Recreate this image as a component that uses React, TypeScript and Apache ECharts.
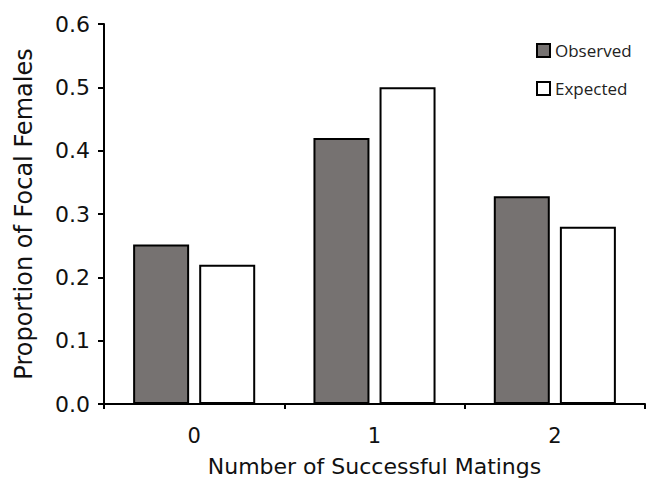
import React, { useEffect, useRef } from "react";
import * as echarts from "echarts";

const categories = ["0", "1", "2"];
const observed = [0.252, 0.42, 0.328];
const expected = [0.22, 0.5, 0.28];
const seriesNames = ["Observed", "Expected"];

export default function App() {
  const ref = useRef<HTMLDivElement>(null);
  useEffect(() => {
    if (!ref.current) return;
    const chart = echarts.init(ref.current, null, { renderer: "svg" });
    const axisFont = "DejaVu Sans, sans-serif";
    chart.setOption({
      animation: false,
      backgroundColor: "#ffffff",
      grid: { left: 104, right: 5, top: 24, bottom: 75, containLabel: false, outerBoundsMode: "none" },
      legend: {
        orient: "vertical",
        left: 531,
        top: 37,
        itemWidth: 13,
        itemHeight: 13,
        itemGap: 21,
        icon: "rect",
        data: seriesNames,
        textStyle: { fontFamily: "Open Sans, sans-serif", fontSize: 17, color: "#222" },
      },
      xAxis: {
        type: "category",
        data: categories,
        name: "Number of Successful Matings",
        nameLocation: "middle",
        nameGap: 51,
        nameTextStyle: { fontFamily: axisFont, fontSize: 22, color: "#111" },
        axisLine: { lineStyle: { color: "#000", width: 2 } },
        axisTick: { show: true, length: 5, lineStyle: { color: "#000", width: 2 } },
        axisLabel: { margin: 21, fontFamily: axisFont, fontSize: 21, color: "#111" },
      },
      yAxis: {
        type: "value",
        min: 0,
        max: 0.6,
        interval: 0.1,
        name: "Proportion of Focal Females",
        nameLocation: "middle",
        nameGap: 68,
        nameTextStyle: { fontFamily: axisFont, fontSize: 24, color: "#111" },
        splitLine: { show: false },
        axisLine: { show: true, lineStyle: { color: "#000", width: 2 } },
        axisTick: { show: true, length: 6, lineStyle: { color: "#000", width: 2 } },
        axisLabel: {
          margin: 14,
          fontFamily: axisFont,
          fontSize: 22,
          color: "#111",
          formatter: (v: number) => v.toFixed(1),
        },
      },
      series: [
        {
          name: seriesNames[0],
          type: "bar",
          data: observed,
          barWidth: 56,
          barGap: "18%",
          itemStyle: { color: "#767271", borderColor: "#000", borderWidth: 2 },
        },
        {
          name: seriesNames[1],
          type: "bar",
          data: expected,
          barWidth: 56,
          itemStyle: { color: "#ffffff", borderColor: "#000", borderWidth: 2 },
        },
      ],
    });
    return () => chart.dispose();
  }, []);
  return <div ref={ref} style={{ width: 650, height: 479, position: "absolute", left: 0, top: 0 }} />;
}
